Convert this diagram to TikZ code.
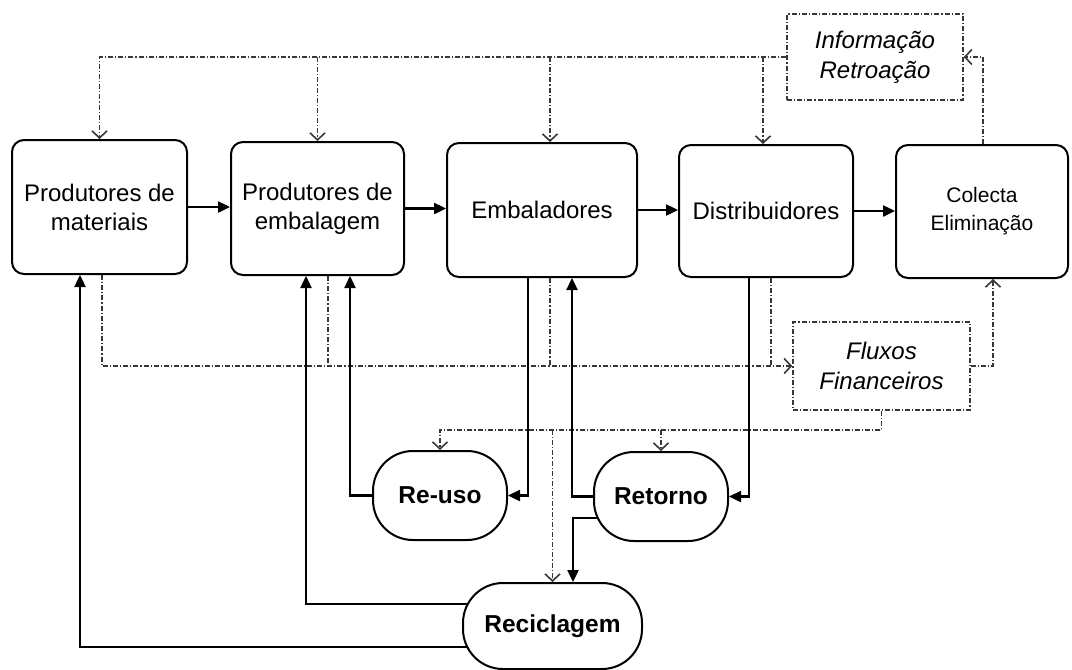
\documentclass[tikz,border=0pt]{standalone}
\usepackage{fontspec}
\setmainfont{Liberation Sans}
\usetikzlibrary{arrows.meta,backgrounds}
\begin{document}
\begin{tikzpicture}[x=0.5pt,y=-0.5pt,
  stage/.style={draw,line width=1pt,rounded corners=6pt,fill=white,align=center,
    font=\fontsize{12}{14.5}\selectfont,inner sep=0pt},
  loopbox/.style={draw,line width=1pt,rounded corners=20pt,fill=white,
    font=\fontsize{12.25}{14}\selectfont\bfseries,inner sep=0pt},
  infoline/.style={draw=black!78,line width=0.75pt,dash pattern=on 2.5pt off 1pt on 0.6pt off 1pt},
  note/.style={infoline,fill=white,align=center,font=\fontsize{12}{15}\selectfont\itshape,inner sep=0pt},
  flow/.style={line width=1.2pt,-{Triangle[length=6pt,width=5.5pt]}},
  cash/.style={infoline,-{Straight Barb[length=3.5pt,width=7.5pt,line width=0.8pt]}}
]
\useasboundingbox (0,0) rectangle (1072,670);

% supply chain stages
\node[stage,minimum width=87.5pt,minimum height=67pt] (pm) at (99.5,207) {Produtores de\\materiais};
\node[stage,minimum width=86.5pt,minimum height=66.5pt] (pe) at (317.5,208.5) {Produtores de\\embalagem};
\node[stage,minimum width=95pt,minimum height=67pt] (emb) at (542,210) {Embaladores};
\node[stage,minimum width=87pt,minimum height=66pt] (dist) at (766,211) {Distribuidores};
\node[stage,minimum width=86pt,minimum height=66.5pt,font=\fontsize{10.5}{14}\selectfont] (col) at (982,211.5) {Colecta\\Eliminação};

% information and money
\node[note,minimum width=88pt,minimum height=43pt] (info) at (875,57) {Informação\\Retroação};
\node[note,minimum width=88.5pt,minimum height=44pt] (fx) at (881.5,366) {Fluxos\\Financeiros};

% recovery loops
\node[loopbox,minimum width=67pt,minimum height=44.5pt] (ru) at (440,495.5) {Re-uso};
\node[loopbox,minimum width=67pt,minimum height=44.5pt] (rt) at (661,496.5) {Retorno};
\node[loopbox,minimum width=89.5pt,minimum height=43pt] (rc) at (552.5,626) {Reciclagem};

\coordinate (e1) at ([xshift=4pt]emb.north);
\coordinate (d1) at ([xshift=-1.5pt]dist.north);
\coordinate (p2) at ([xshift=5.25pt]pe.south);
\coordinate (e2) at ([xshift=4pt]emb.south);
\coordinate (d2) at ([xshift=2.5pt]dist.south);
\coordinate (lvl) at (0,430);

\begin{scope}[on background layer]
  % forward material flow
  \draw[flow] (pm.east) -- (pe.west |- pm.east);
  \draw[flow] (pe.east) -- (emb.west |- pe.east);
  \draw[flow] (emb.east) -- (dist.west |- emb.east);
  \draw[flow] (dist.east) -- (col.west |- dist.east);

  % feedback information
  \draw[cash] (info.west) -| (pm.north);
  \draw[cash] (info.west -| pe.north) -- (pe.north);
  \draw[cash] (info.west -| e1) -- (e1);
  \draw[cash] (info.west -| d1) -- (d1);
  \draw[cash] ([xshift=0.5pt]col.north) |- (info.east);

  % financial flows
  \draw[cash] ([xshift=1.25pt]pm.south) |- (fx.west);
  \draw[infoline] (p2) -- (p2 |- fx.west);
  \draw[infoline] (e2) -- (e2 |- fx.west);
  \draw[infoline] (d2) -- (d2 |- fx.west);
  \draw[cash] (fx.east) -| ([xshift=5.5pt]col.south);
  \draw[cash] (fx.south) |- (lvl -| ru.north) -- (ru.north);
  \draw[cash] (lvl -| rt.north) -- (rt.north);
  \draw[cash] (lvl -| rc.north) -- (rc.north);

  % reverse material flow
  \draw[flow] ([yshift=-10.5pt]rc.center) -| ([xshift=-9.75pt]pm.south);
  \draw[flow] ([yshift=11pt]rc.center) -| ([xshift=-5.75pt]pe.south);
  \draw[flow] (ru.west) -| ([xshift=16.25pt]pe.south);
  \draw[flow] ([xshift=-7pt]emb.south) |- (ru.east);
  \draw[flow] (rt.west) -| ([xshift=15pt]emb.south);
  \draw[flow] ([xshift=-8.5pt]dist.south) |- (rt.east);
  \draw[flow] ([yshift=-10.75pt]rt.center) -| ([xshift=10.25pt]rc.north);
\end{scope}
\end{tikzpicture}
\end{document}
